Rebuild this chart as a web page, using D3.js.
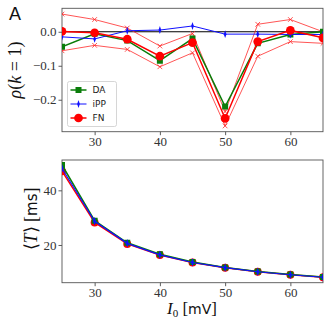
<!DOCTYPE html>
<html>
<head>
<meta charset="UTF-8">
<script src="https://cdn.jsdelivr.net/npm/d3@7/dist/d3.min.js"></script>
<style>
  body { margin: 0; background: #fff; }
  .tick text { font-family: "Liberation Serif", serif; font-size: 13px; fill: #333; }
</style>
</head>
<body>
<script>
// input current I0 [mV]
var current = [25, 30, 35, 40, 45, 50, 55, 60, 65];

// serial correlation rho(k=1)
var rhoDA  = [-0.044, -0.006, -0.026, -0.085, -0.020, -0.220, -0.034, -0.008, 0.000];
var rhoIPP = [-0.015, -0.021, 0.003, 0.005, 0.017, -0.007, -0.007, -0.008, -0.008];
var rhoFN  = [0.001, -0.003, -0.022, -0.072, -0.032, -0.255, -0.029, 0.004, -0.018];
var rhoFNhi = [0.052, 0.036, 0.011, -0.042, -0.005, -0.235, 0.022, 0.036, 0.000];
var rhoFNlo = [-0.056, -0.040, -0.052, -0.103, -0.062, -0.277, -0.072, -0.029, -0.034];

// mean interval <T> [ms]
var tDA  = [49.3, 28.9, 20.8, 16.6, 13.8, 11.8, 10.3, 9.2, 8.3];
var tIPP = [48.0, 28.7, 20.6, 16.4, 13.6, 11.7, 10.2, 9.1, 8.2];
var tFN  = [47.0, 28.2, 20.4, 16.3, 13.6, 11.7, 10.2, 9.1, 8.2];

var xTicks = [30, 40, 50, 60];
var rhoTicks = [0.0, -0.1, -0.2];
var tTicks = [20, 40];

var W = 332, H = 332;
var svg = d3.select("body").append("svg").attr("width", W).attr("height", H);

var left = 62, right = 323;
var x = d3.scaleLinear().domain([25, 65]).range([left, right]);

var yTop = d3.scaleLinear().domain([-0.294, 0.069]).range([131.7, 8.3]);
var yBot = d3.scaleLinear().domain([6.2, 51.1]).range([282.7, 160]);

function panel(y, yTicks, fmt, id) {
  var g = svg.append("g");
  var y0 = y.range()[0], y1 = y.range()[1];
  svg.append("clipPath").attr("id", id).append("rect")
    .attr("x", left).attr("y", y1).attr("width", right - left).attr("height", y0 - y1);

  var xa = g.append("g").attr("transform", "translate(0," + y0 + ")")
    .call(d3.axisBottom(x).tickValues(xTicks).tickSize(3.5).tickPadding(1.5).tickFormat(d3.format("d")));
  var ya = g.append("g").attr("transform", "translate(" + left + ",0)")
    .call(d3.axisLeft(y).tickValues(yTicks).tickSize(3.5).tickPadding(2).tickFormat(fmt));
  [xa, ya].forEach(function (a) {
    a.select(".domain").remove();
    a.selectAll(".tick line").attr("stroke", "#333").attr("stroke-width", 0.8);
  });
  g.append("rect").attr("x", left).attr("y", y1).attr("width", right - left).attr("height", y0 - y1)
    .attr("fill", "none").attr("stroke", "#555").attr("stroke-width", 0.9);
  return svg.append("g").attr("clip-path", "url(#" + id + ")");
}

function series(g, y, vals, color, width, marker, size) {
  var pts = current.map(function (c, i) { return [c, vals[i]]; });
  var line = d3.line().x(function (d) { return x(d[0]); }).y(function (d) { return y(d[1]); });
  g.append("path").datum(pts).attr("d", line).attr("fill", "none")
    .attr("stroke", color).attr("stroke-width", width);
  if (!marker) return;
  var sym = d3.symbol().type(marker).size(size);
  g.selectAll(null).data(pts).enter().append("path")
    .attr("d", sym)
    .attr("transform", function (d) {
      var t = "translate(" + x(d[0]) + "," + y(d[1]) + ")";
      return marker === d3.symbolDiamond ? t + " scale(0.6,1)" : t;
    })
    .attr("fill", color)
    .attr("stroke", color).attr("stroke-width", marker === d3.symbolX ? 0.8 : 0);
}

// top panel
var gt = panel(yTop, rhoTicks, function (d) { return d === 0 ? "0.0" : "\u2212" + Math.abs(d).toFixed(1); }, "clipTop");
gt.append("line").attr("x1", left).attr("x2", right)
  .attr("y1", yTop(0)).attr("y2", yTop(0)).attr("stroke", "#000").attr("stroke-width", 1.1);
series(gt, yTop, rhoFNhi, "#ff2a2a", 0.8, d3.symbolX, 16);
series(gt, yTop, rhoFNlo, "#ff2a2a", 0.8, d3.symbolX, 16);
series(gt, yTop, rhoDA, "#0a7d0a", 1.5, d3.symbolSquare, 36);
series(gt, yTop, rhoIPP, "#1010ff", 1, d3.symbolDiamond, 18);
series(gt, yTop, rhoFN, "#ff0000", 1.5, d3.symbolCircle, 60);

// bottom panel
var gb = panel(yBot, tTicks, d3.format("d"), "clipBot");
series(gb, yBot, tFN, "#ff0000", 1.5, d3.symbolCircle, 50);
series(gb, yBot, tDA, "#0a7d0a", 1.5, d3.symbolSquare, 36);
series(gb, yBot, tIPP, "#1010ff", 1.2, d3.symbolDiamond, 22);

// legend
var lg = svg.append("g").attr("transform", "translate(67.5,81.5)");
lg.append("rect").attr("width", 49).attr("height", 45).attr("rx", 2)
  .attr("fill", "#fff").attr("fill-opacity", 0.85).attr("stroke", "#ccc").attr("stroke-width", 0.8);
var legendItems = [
  { name: "DA", color: "#0a7d0a", w: 1.5, m: d3.symbolSquare, s: 36 },
  { name: "iPP", color: "#1010ff", w: 1, m: d3.symbolDiamond, s: 18 },
  { name: "FN", color: "#ff0000", w: 1.5, m: d3.symbolCircle, s: 60 }
];
legendItems.forEach(function (it, i) {
  var yy = 8.5 + i * 14;
  lg.append("line").attr("x1", 3).attr("x2", 19).attr("y1", yy).attr("y2", yy)
    .attr("stroke", it.color).attr("stroke-width", it.w);
  lg.append("path").attr("d", d3.symbol().type(it.m).size(it.s))
    .attr("transform", "translate(11," + yy + ")" + (it.m === d3.symbolDiamond ? " scale(0.6,1)" : ""))
    .attr("fill", it.color);
  lg.append("text").attr("x", 25).attr("y", yy + 3.3).text(it.name)
    .attr("font-family", "DejaVu Sans").attr("font-size", 9).attr("fill", "#222");
});

// labels
svg.append("text").attr("x", 9).attr("y", 19.5).text("A")
  .attr("font-family", "Liberation Sans").attr("font-size", 18).attr("fill", "#111");

svg.append("text").attr("transform", "translate(21,70) rotate(-90)").attr("text-anchor", "middle")
  .attr("font-family", "Liberation Serif").attr("font-size", 18).attr("fill", "#111")
  .html('<tspan font-style="italic">\u03c1</tspan>(<tspan font-style="italic">k</tspan> = 1)');

svg.append("text").attr("transform", "translate(37,219) rotate(-90)").attr("text-anchor", "middle")
  .attr("font-family", "Liberation Serif").attr("font-size", 18).attr("fill", "#111")
  .html('\u27e8<tspan font-style="italic">T</tspan>\u27e9 [<tspan font-family="DejaVu Sans" font-size="15">ms</tspan>]');

svg.append("text").attr("x", 192).attr("y", 314).attr("text-anchor", "middle")
  .attr("font-family", "Liberation Serif").attr("font-size", 17).attr("fill", "#111")
  .html('<tspan font-style="italic">I</tspan><tspan font-size="11" dy="3">0</tspan><tspan dy="-3"> [</tspan><tspan font-family="DejaVu Sans" font-size="14">mV</tspan>]');
</script>
</body>
</html>
